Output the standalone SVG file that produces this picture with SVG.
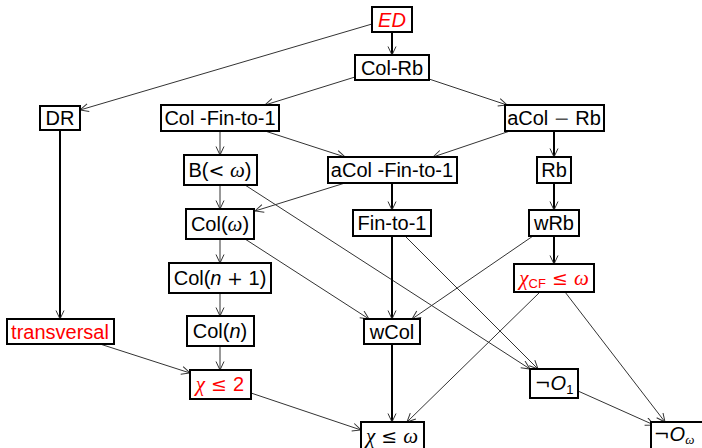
<svg xmlns="http://www.w3.org/2000/svg" width="702" height="448" viewBox="0 0 702 448">
<defs>
<marker id="ah" markerUnits="userSpaceOnUse" markerWidth="12" markerHeight="12" refX="9" refY="4.5" orient="auto">
<path d="M0.5,0.5 L9,4.5 L0.5,8.5" fill="none" stroke="#333" stroke-width="1"/>
</marker>
<style>
.box{fill:#fff;stroke:#000;stroke-width:2}
.t{font-family:"Liberation Sans",Arial,sans-serif;font-size:20px;fill:#000;text-anchor:middle}
.r{fill:#ff0000}
.m{font-family:"DejaVu Serif","Liberation Serif",serif;font-size:19px}
.mi{font-family:"Liberation Serif","DejaVu Serif",serif;font-size:21px;font-style:italic}
.si{font-style:italic}
.sub{font-size:13px}
.thin{fill:none;stroke:#333;stroke-width:1;marker-end:url(#ah)}
.thick{fill:none;stroke:#000;stroke-width:2;marker-end:url(#ah)}
</style>
</defs>
<rect width="702" height="448" fill="#fff"/>
<g id="connectors">
<line class="thick" x1="392" y1="32" x2="392" y2="55"/>
<line class="thin" x1="372" y1="24" x2="80" y2="110"/>
<line class="thin" x1="355" y1="77" x2="265" y2="105"/>
<line class="thin" x1="429" y1="79" x2="507" y2="105"/>
<line class="thick" x1="60" y1="130" x2="60" y2="319"/>
<line class="thin" x1="220" y1="131" x2="220" y2="155"/>
<line class="thin" x1="265" y1="131" x2="345" y2="157"/>
<line class="thin" x1="510" y1="131" x2="433" y2="157"/>
<line class="thick" x1="554" y1="131" x2="554" y2="157"/>
<line class="thin" x1="220" y1="185" x2="220" y2="209"/>
<line class="thin" x1="345" y1="183" x2="255" y2="211"/>
<line class="thin" x1="245" y1="185" x2="530" y2="369"/>
<line class="thin" x1="245" y1="239" x2="369" y2="319"/>
<line class="thin" x1="220" y1="239" x2="220" y2="263"/>
<line class="thin" x1="220" y1="293" x2="220" y2="316"/>
<line class="thin" x1="220" y1="346" x2="220" y2="370"/>
<line class="thin" x1="100" y1="344" x2="190" y2="373"/>
<line class="thin" x1="251" y1="393" x2="361" y2="430"/>
<line class="thick" x1="392" y1="183" x2="392" y2="210"/>
<line class="thick" x1="392" y1="236" x2="392" y2="319"/>
<line class="thin" x1="405" y1="236" x2="538" y2="369"/>
<line class="thick" x1="554" y1="183" x2="554" y2="210"/>
<line class="thin" x1="533" y1="236" x2="412" y2="319"/>
<line class="thick" x1="554" y1="236" x2="554" y2="264"/>
<line class="thin" x1="540" y1="292" x2="407" y2="422"/>
<line class="thin" x1="565" y1="292" x2="665" y2="422"/>
<line class="thin" x1="578" y1="391" x2="654" y2="425"/>
<line class="thick" x1="392" y1="344" x2="392" y2="422"/>
</g>
<g id="ED"><rect class="box" x="372" y="7" width="40" height="25"/><text class="t r" x="392" y="27"><tspan class="si">ED</tspan></text></g>
<g id="ColRb"><rect class="box" x="355" y="55" width="74" height="25"/><text class="t" x="392" y="75">Col-Rb</text></g>
<g id="DR"><rect class="box" x="40" y="106" width="40" height="24"/><text class="t" x="60" y="125">DR</text></g>
<g id="ColFin"><rect class="box" x="161" y="105" width="118" height="26"/><text class="t" x="220" y="125">Col -Fin-to-1</text></g>
<g id="aColRb"><rect class="box" x="505" y="105" width="99" height="26"/><text class="t" x="554" y="125">aCol <tspan class="m" fill="#555">−</tspan> Rb</text></g>
<g id="Bw"><rect class="box" x="184" y="155" width="73" height="30"/><text class="t" x="220" y="177">B(<tspan class="m">&lt;</tspan> <tspan class="mi">ω</tspan>)</text></g>
<g id="aColFin"><rect class="box" x="328" y="157" width="129" height="26"/><text class="t" x="392" y="177">aCol -Fin-to-1</text></g>
<g id="Rb"><rect class="box" x="537" y="157" width="34" height="26"/><text class="t" x="554" y="177">Rb</text></g>
<g id="Colw"><rect class="box" x="186" y="209" width="68" height="30"/><text class="t" x="220" y="231">Col(<tspan class="mi">ω</tspan>)</text></g>
<g id="Fin"><rect class="box" x="353" y="210" width="78" height="26"/><text class="t" x="392" y="230">Fin-to-1</text></g>
<g id="wRb"><rect class="box" x="529" y="210" width="50" height="26"/><text class="t" x="554" y="230">wRb</text></g>
<g id="Coln1"><rect class="box" x="169" y="263" width="102" height="30"/><text class="t" x="220" y="285">Col(<tspan class="si">n</tspan> <tspan class="m">+</tspan> 1)</text></g>
<g id="chiCF"><rect class="box" x="514" y="264" width="80" height="28"/><text class="t r" x="554" y="285"><tspan class="mi">χ</tspan><tspan class="sub" dy="3">CF</tspan><tspan class="m" dy="-3"> ≤ </tspan><tspan class="mi">ω</tspan></text></g>
<g id="transversal"><rect class="box" x="7" y="319" width="107" height="25"/><text class="t r" x="60" y="339">transversal</text></g>
<g id="Coln"><rect class="box" x="187" y="316" width="67" height="30"/><text class="t" x="220" y="338">Col(<tspan class="si">n</tspan>)</text></g>
<g id="wCol"><rect class="box" x="364" y="319" width="56" height="25"/><text class="t" x="392" y="339">wCol</text></g>
<g id="chi2"><rect class="box" x="190" y="370" width="61" height="29"/><text class="t r" x="220" y="391"><tspan class="mi">χ</tspan><tspan class="m"> ≤ </tspan>2</text></g>
<g id="notO1"><rect class="box" x="530" y="369" width="48" height="29"/><text class="t" x="554" y="390"><tspan class="m">¬</tspan><tspan class="si">O</tspan><tspan class="sub" dy="4">1</tspan></text></g>
<g id="chiw"><rect class="box" x="361" y="422" width="63" height="30"/><text class="t" x="392" y="443"><tspan class="mi">χ</tspan><tspan class="m"> ≤ </tspan><tspan class="mi">ω</tspan></text></g>
<g id="notOw"><rect class="box" x="651" y="422" width="52" height="30"/><text class="t" x="674" y="441"><tspan class="m">¬</tspan><tspan class="si">O</tspan><tspan class="mi sub" dy="3">ω</tspan></text></g>
</svg>
